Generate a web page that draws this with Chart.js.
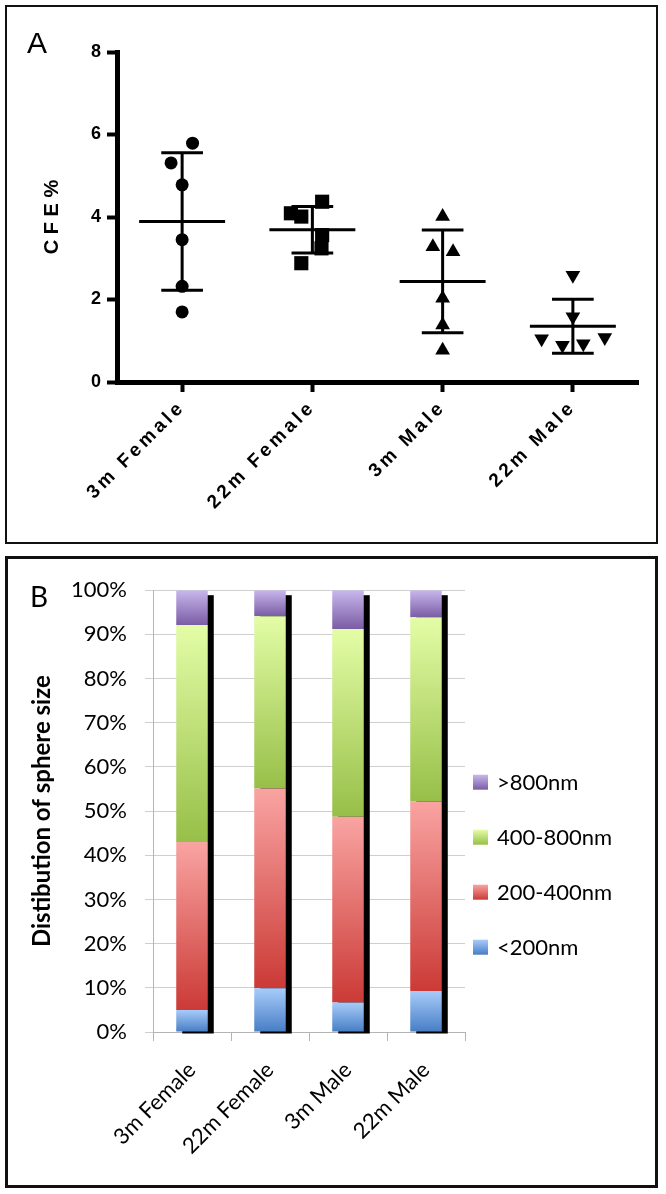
<!DOCTYPE html>
<html><head><meta charset="utf-8">
<script src="https://cdn.jsdelivr.net/npm/chart.js@4.4.1/dist/chart.umd.min.js"></script>
<style>
html,body{margin:0;padding:0;background:#fff;width:666px;height:1194px;overflow:hidden;position:relative}
.box{position:absolute;box-sizing:border-box;border:2px solid #111;background:#fff}
canvas{position:absolute;display:block}
.lbl{position:absolute;color:#000;white-space:nowrap}
</style></head><body>
<div class="box" style="left:5px;top:5px;width:653px;height:539px;"></div>
<div class="box" style="left:5px;top:556px;width:653px;height:632px;border-width:3px"></div>
<canvas id="cA" width="649" height="535" style="left:7px;top:7px"></canvas>
<canvas id="cB" width="647" height="626" style="left:8px;top:559px"></canvas>
<div class="lbl" style="left:27px;top:28px;font-family:'Liberation Sans';font-size:30px;line-height:30px">A</div>
<div class="lbl" style="left:30px;top:582px;font-family:Lato;font-size:28px;line-height:28px">B</div>
<script>
// ---------- Panel A data ----------
const categories = ['3m Female', '22m Female', '3m Male', '22m Male'];
const cfe3mFemale  = [5.79, 5.31, 4.78, 3.45, 2.32, 1.70];
const cfe22mFemale = [4.09, 4.01, 4.37, 3.56, 2.88, 3.24];
const cfe3mMale    = [4.01, 3.28, 3.16, 2.03, 1.38, 0.77];
const cfe22mMale   = [2.59, 1.58, 1.05, 0.89, 0.93, 1.08];
// horizontal spread of the dots inside each group (fraction of one category step)
const spread3mFemale  = [0.08, -0.085, 0, 0, 0, 0];
const spread22mFemale = [-0.165, -0.085, 0.075, 0.075, -0.085, 0.07];
const spread3mMale    = [0, -0.075, 0.08, 0, 0, 0];
const spread22mMale   = [0, 0, -0.24, -0.08, 0.08, 0.245];
const cfeTicks = [0, 2, 4, 6, 8];

// ---------- Panel B data ----------
const sizeUnder200 = [5.0, 9.9, 6.7, 9.3];
const size200to400 = [38.0, 45.2, 42.0, 42.9];
const size400to800 = [49.1, 39.0, 42.5, 41.65];
const sizeOver800  = [7.9, 5.9, 8.8, 6.15];
const percentTicks = [0, 10, 20, 30, 40, 50, 60, 70, 80, 90, 100];

// ---------- Panel A ----------
const groupsA = [
  {vals: cfe3mFemale,  spread: spread3mFemale,  style: 'circle',   r: 6.5, rot: 0},
  {vals: cfe22mFemale, spread: spread22mFemale, style: 'rect',     r: 10,  rot: 0},
  {vals: cfe3mMale,    spread: spread3mMale,    style: 'triangle', r: 8.5, rot: 0},
  {vals: cfe22mMale,   spread: spread22mMale,   style: 'triangle', r: 8.5, rot: 180}
];

const meanSdPlugin = {
  id: 'meanSd',
  afterDatasetsDraw(chart) {
    const {ctx, scales: {x, y}} = chart;
    const step = x.getPixelForValue(1) - x.getPixelForValue(0);
    ctx.save();
    ctx.strokeStyle = '#000'; ctx.lineWidth = 3; ctx.lineCap = 'butt';
    groupsA.forEach((g, i) => {
      const n = g.vals.length;
      const m = g.vals.reduce((a, b) => a + b, 0) / n;
      const sd = Math.sqrt(g.vals.reduce((a, b) => a + (b - m) * (b - m), 0) / (n - 1));
      const cx = x.getPixelForValue(i);
      const ym = y.getPixelForValue(m), yt = y.getPixelForValue(m + sd), yb = y.getPixelForValue(m - sd);
      ctx.beginPath();
      ctx.moveTo(cx - 0.33 * step, ym); ctx.lineTo(cx + 0.33 * step, ym);
      ctx.moveTo(cx - 0.16 * step, yt); ctx.lineTo(cx + 0.16 * step, yt);
      ctx.moveTo(cx - 0.16 * step, yb); ctx.lineTo(cx + 0.16 * step, yb);
      ctx.moveTo(cx, yt); ctx.lineTo(cx, yb);
      ctx.stroke();
    });
    ctx.restore();
  }
};

function spacedLabels(scale, spacing) {
  if (scale._spacedWrap) return;
  const orig = scale.drawLabels.bind(scale);
  scale.drawLabels = function (ca) {
    const c = scale.ctx;
    const prev = c.letterSpacing;
    try { c.letterSpacing = spacing; } catch (e) {}
    orig(ca);
    try { c.letterSpacing = prev || '0px'; } catch (e) {}
  };
  scale._spacedWrap = true;
}

const boldArial = (s) => ({family: "'Liberation Sans', Arial, sans-serif", size: s, weight: 'bold'});

new Chart(document.getElementById('cA'), {
  type: 'scatter',
  data: {
    datasets: groupsA.map((g, i) => ({
      label: categories[i],
      data: g.vals.map((v, k) => ({x: i + g.spread[k], y: v})),
      pointStyle: g.style,
      pointRadius: g.r,
      pointHoverRadius: g.r,
      pointRotation: g.rot,
      backgroundColor: '#000',
      borderColor: '#000',
      borderWidth: 0
    }))
  },
  options: {
    responsive: false, animation: false, events: [],
    layout: {padding: {left: 0, right: 18, top: 45, bottom: 10}},
    plugins: {legend: {display: false}, tooltip: {enabled: false}},
    scales: {
      x: {
        type: 'linear', min: -0.5, max: 3.5,
        afterBuildTicks: s => { s.ticks = categories.map((_, i) => ({value: i})); },
        afterFit: s => { s.height = 150; },
        afterUpdate: s => spacedLabels(s, '3.5px'),
        ticks: {autoSkip: false, minRotation: 45, maxRotation: 45, padding: 4, color: '#000',
                font: boldArial(19), callback: v => categories[v]},
        grid: {drawOnChartArea: false, drawTicks: true, tickLength: 10, tickWidth: 4, tickColor: '#000'},
        border: {display: true, color: '#000', width: 5}
      },
      y: {
        min: 0, max: 8,
        afterBuildTicks: s => { s.ticks = cfeTicks.map(v => ({value: v})); },
        afterFit: s => { s.width = 110; },
        ticks: {padding: 6, color: '#000', font: boldArial(18)},
        grid: {drawOnChartArea: false, drawTicks: true, tickLength: 10, tickWidth: 4, tickColor: '#000'},
        border: {display: true, color: '#000', width: 5},
        title: {display: true, text: 'C F E %', color: '#000', font: boldArial(20), padding: {top: 33, bottom: 0}}
      }
    }
  },
  plugins: [meanSdPlugin]
});

// ---------- Panel B ----------
const seriesB = [
  {label: '<200nm',    data: sizeUnder200, colors: ['#a8ccfa', '#477dc5']},
  {label: '200-400nm', data: size200to400, colors: ['#f9a4a2', '#cb3a36']},
  {label: '400-800nm', data: size400to800, colors: ['#e3fda6', '#97bf48']},
  {label: '>800nm',    data: sizeOver800,  colors: ['#c9b7ed', '#7a5ca4']}
];

function segmentGradient(colors) {
  return (c) => {
    const chart = c.chart;
    if (!chart.chartArea || c.type !== 'data') return colors[1];
    const i = c.dataIndex, di = c.datasetIndex;
    let base = 0;
    for (let d = 0; d < di; d++) base += chart.data.datasets[d].data[i];
    const top = base + chart.data.datasets[di].data[i];
    const ys = chart.scales.y;
    const g = chart.ctx.createLinearGradient(0, ys.getPixelForValue(top), 0, ys.getPixelForValue(base));
    g.addColorStop(0, colors[0]); g.addColorStop(1, colors[1]);
    return g;
  };
}

const shadowPlugin = {
  id: 'barShadow',
  beforeDatasetsDraw(chart) {
    const ctx = chart.ctx;
    const topMeta = chart.getDatasetMeta(chart.data.datasets.length - 1);
    const baseMeta = chart.getDatasetMeta(0);
    ctx.save();
    ctx.fillStyle = '#000';
    topMeta.data.forEach((bar, i) => {
      const {x, y, width} = bar.getProps(['x', 'y', 'width'], true);
      const base = baseMeta.data[i].getProps(['base'], true).base;
      ctx.fillRect(x - width / 2 + 6, y + 5, width, base + 2 - (y + 5));
    });
    ctx.restore();
  }
};

const sideLegendPlugin = {
  id: 'sideLegend',
  afterDraw(chart) {
    const ctx = chart.ctx, ca = chart.chartArea;
    const x0 = ca.right + 8;
    const y0 = ca.top + 192, gap = 55, box = 15;
    ctx.save();
    ctx.font = "22px Lato, 'Open Sans', sans-serif";
    ctx.textBaseline = 'middle'; ctx.textAlign = 'left';
    seriesB.slice().reverse().forEach((s, k) => {
      const yc = y0 + k * gap;
      const g = ctx.createLinearGradient(0, yc - box / 2, 0, yc + box / 2);
      g.addColorStop(0, s.colors[0]); g.addColorStop(1, s.colors[1]);
      ctx.fillStyle = g;
      ctx.fillRect(x0, yc - box / 2, box, box);
      ctx.fillStyle = '#000';
      ctx.fillText(s.label, x0 + 24, yc + 1);
    });
    ctx.restore();
  }
};

const lato = (s, w) => ({family: "Lato, 'Open Sans', sans-serif", size: s, weight: w || 'normal'});

new Chart(document.getElementById('cB'), {
  type: 'bar',
  data: {
    labels: categories,
    datasets: seriesB.map(s => ({
      label: s.label, data: s.data,
      backgroundColor: segmentGradient(s.colors),
      borderWidth: 0,
      categoryPercentage: 1, barPercentage: 0.404
    }))
  },
  options: {
    responsive: false, animation: false, events: [],
    layout: {padding: {left: 0, right: 190, top: 29, bottom: 10}},
    plugins: {legend: {display: false}, tooltip: {enabled: false}},
    scales: {
      x: {
        stacked: true,
        afterFit: s => { s.height = 143; },
        ticks: {autoSkip: false, minRotation: 45, maxRotation: 45, padding: 16, color: '#000', font: lato(22)},
        grid: {offset: true, drawOnChartArea: false, drawTicks: true, tickLength: 9, tickWidth: 1, tickColor: '#b4b4b4'},
        border: {display: true, color: '#b4b4b4', width: 1}
      },
      y: {
        stacked: true, min: 0, max: 100,
        afterBuildTicks: s => { s.ticks = percentTicks.map(v => ({value: v})); },
        afterFit: s => { s.width = 145; },
        ticks: {padding: 18, color: '#000', font: lato(22), callback: v => v + '%'},
        grid: {color: '#cfcfcf', lineWidth: 1, drawTicks: true, tickLength: 8, tickColor: '#cfcfcf'},
        border: {display: true, color: '#b4b4b4', width: 1},
        title: {display: true, text: 'Distibution of sphere size', color: '#000', font: lato(24, 'bold'), padding: {top: 20, bottom: 0}}
      }
    }
  },
  plugins: [shadowPlugin, sideLegendPlugin]
});
</script>
</body></html>
